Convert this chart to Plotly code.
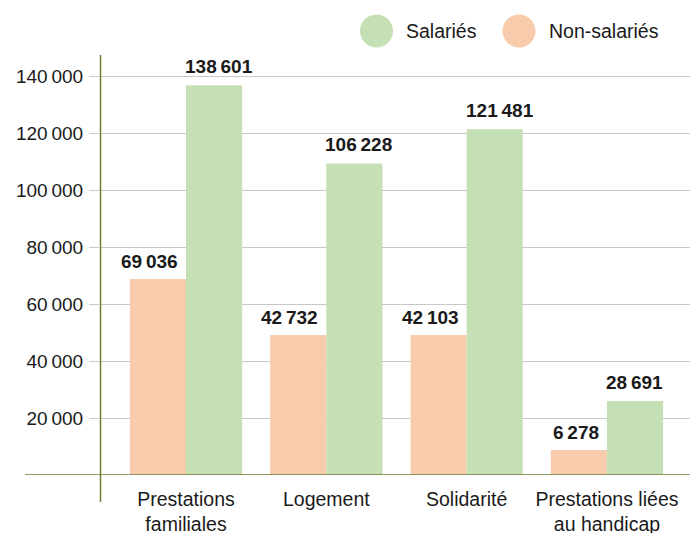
import plotly.graph_objects as go

# ---- data ----
categories = ["Prestations<br>familiales", "Logement", "Solidarité", "Prestations liées<br>au handicap"]
non_salaries_bars = [68900, 49200, 49200, 8800]      # bar heights as drawn
salaries_bars = [137000, 109500, 121500, 26000]      # bar heights as drawn
non_salaries_labels = ["69\u2009036", "42\u2009732", "42\u2009103", "6\u2009278"]
salaries_labels = ["138\u2009601", "106\u2009228", "121\u2009481", "28\u2009691"]
ytick_vals = [20000, 40000, 60000, 80000, 100000, 120000, 140000]
ytick_text = ["20\u2009000", "40\u2009000", "60\u2009000", "80\u2009000", "100\u2009000", "120\u2009000", "140\u2009000"]

GREEN = "#C5E0B4"
SALMON = "#F8CBAD"
OLIVE = "#6E7B35"
GRID = "#C8C8C8"
FONT = "Liberation Sans, Arial, sans-serif"
TXT = "#1a1a1a"

W, H = 690, 533
ML, MR, MT, MB = 100, 0, 57, 58
PW, PH = W - ML - MR, H - MT - MB


def px_x(px):
    return (px - ML) / PW


def px_y(py):
    return (H - MB - py) / PH


fig = go.Figure()
fig.add_bar(x=categories, y=non_salaries_bars, name="Non-salariés",
            marker=dict(color=SALMON, line=dict(width=0)), showlegend=False, hoverinfo="skip")
fig.add_bar(x=categories, y=salaries_bars, name="Salariés",
            marker=dict(color=GREEN, line=dict(width=0)), showlegend=False, hoverinfo="skip")

annotations = []
for i, (v, t) in enumerate(zip(non_salaries_bars, non_salaries_labels)):
    annotations.append(dict(x=i, y=v, xref="x", yref="y", text=f"<b>{t}</b>", showarrow=False,
                            xanchor="right", yanchor="bottom", xshift=-6, yshift=5,
                            font=dict(size=19, color=TXT, family=FONT)))
for i, (v, t) in enumerate(zip(salaries_bars, salaries_labels)):
    annotations.append(dict(x=i, y=v, xref="x", yref="y", text=f"<b>{t}</b>", showarrow=False,
                            xanchor="left", yanchor="bottom", xshift=-3, yshift=6,
                            font=dict(size=19, color=TXT, family=FONT)))

# manual legend
legend_items = [("Salariés", GREEN, 376.5, 404), ("Non-salariés", SALMON, 519, 547)]
shapes = []
for name, col, cx, tx in legend_items:
    shapes.append(dict(type="circle", xref="paper", yref="paper", xsizemode="pixel", ysizemode="pixel",
                       xanchor=px_x(cx), yanchor=px_y(31), x0=-16.5, x1=16.5, y0=-16.5, y1=16.5,
                       fillcolor=col, line=dict(width=0)))
    annotations.append(dict(x=px_x(tx), y=px_y(31), xref="paper", yref="paper", text=name,
                            showarrow=False, xanchor="left", yanchor="middle",
                            font=dict(size=19.5, color=TXT, family=FONT)))

# axis lines
shapes.append(dict(type="line", xref="paper", yref="y", x0=px_x(25), x1=1, y0=0, y1=0,
                   line=dict(color=OLIVE, width=1.5)))
shapes.append(dict(type="line", xref="paper", yref="paper", x0=px_x(100.5), x1=px_x(100.5),
                   y0=px_y(502), y1=px_y(55), line=dict(color=OLIVE, width=1.5)))

fig.update_layout(
    width=W, height=H,
    margin=dict(l=ML, r=MR, t=MT, b=MB, autoexpand=False),
    paper_bgcolor="white", plot_bgcolor="white",
    barmode="group", bargap=0.2, bargroupgap=0,
    font=dict(family=FONT, size=19, color=TXT),
    annotations=annotations, shapes=shapes,
    xaxis=dict(range=[-0.613, 3.592], showgrid=False, showline=False, zeroline=False, automargin=False,
               ticks="", tickfont=dict(size=19.5, color=TXT, family=FONT), ticklabelstandoff=10),
    yaxis=dict(range=[0, 146900], tickvals=ytick_vals, ticktext=ytick_text, automargin=False,
               showgrid=True, gridcolor=GRID, gridwidth=1, zeroline=False, showline=False,
               ticks="outside", ticklen=10, tickcolor=GRID, tickwidth=1,
               tickfont=dict(size=19, color=TXT, family=FONT), ticklabelstandoff=2),
)

fig.write_html("out.html", config={"displayModeBar": False},
               post_script="document.body.style.margin='0';document.body.style.overflow='hidden';")
